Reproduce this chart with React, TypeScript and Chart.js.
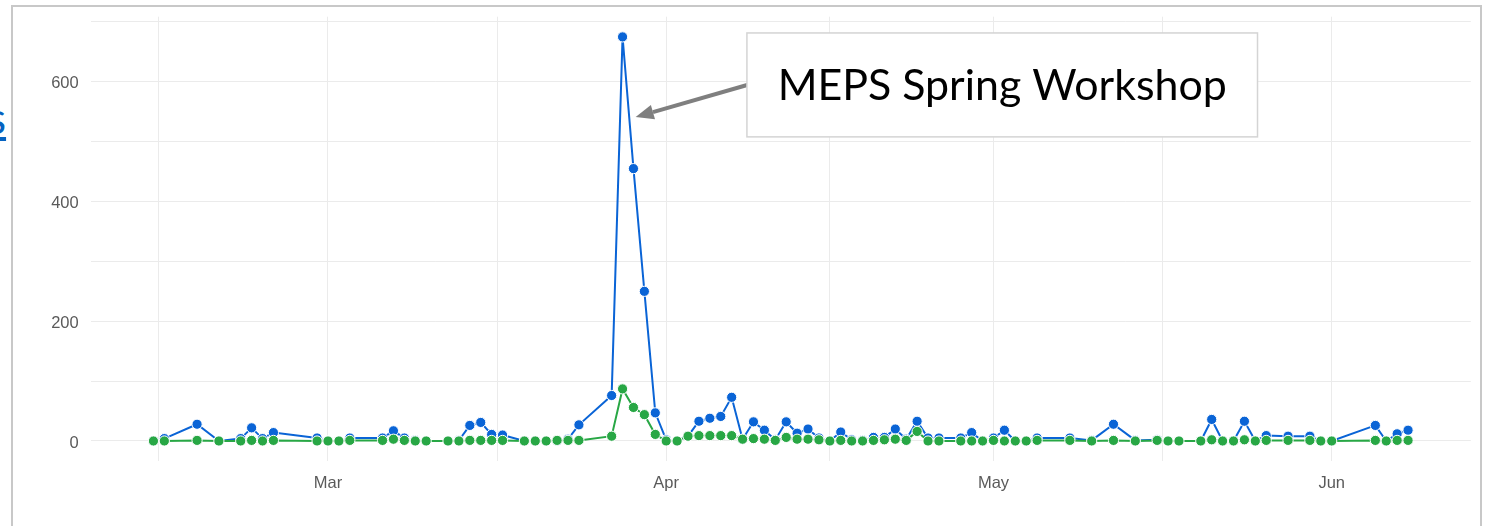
import React, { useEffect, useRef } from 'react';
import { Chart, registerables } from 'chart.js';

Chart.register(...registerables);

// Day offsets counted from 1 March (negative = February)
const dayOffsets = [
  -16, -15, -12, -10, -8, -7, -6, -5, -1, 0, 1, 2,
  5, 6, 7, 8, 9, 11, 12, 13, 14, 15, 16, 18, 19, 20, 21, 22, 23,
  26, 27, 28, 29, 30, 31, 32, 33, 34, 35, 36, 37, 38, 39, 40, 41, 42, 43, 44, 45,
  46, 47, 48, 49, 50, 51, 52, 53, 54, 55, 56, 58, 59, 60, 61, 62, 63, 64, 65,
  68, 70, 72, 74, 76, 77, 78, 80, 81, 82, 83, 84, 85, 86, 88, 90, 91, 92,
  96, 97, 98, 99,
];

const blueSeries = [
  0, 4, 28, 0, 4, 22, 4, 14, 5, 0, 0, 5,
  5, 17, 5, 1, 0, 0, 1, 26, 31, 11, 10, 0, 0, 0, 0, 3, 27,
  76, 675, 455, 250, 47, 2, 0, 8, 33, 38, 41, 73, 3, 32, 18, 2, 32, 13, 20, 5,
  0, 15, 2, 1, 6, 6, 20, 3, 33, 5, 5, 5, 14, 0, 5, 18, 0, 0, 5,
  5, 1, 28, 1, 2, 0, 0, 0, 36, 0, 0, 33, 0, 9, 8, 8, 0, 0,
  26, 0, 12, 18,
];

const greenSeries = [
  0, 0, 1, 0, 0, 1, 0, 1, 0, 0, 0, 1,
  1, 3, 1, 0, 0, 0, 0, 1, 1, 1, 1, 0, 0, 0, 1, 1, 1,
  8, 87, 56, 44, 11, 0, 0, 8, 9, 9, 9, 9, 3, 4, 3, 1, 6, 3, 3, 2,
  0, 1, 0, 0, 1, 2, 3, 1, 16, 0, 0, 0, 0, 0, 1, 0, 0, 0, 1,
  1, 0, 1, 0, 1, 0, 0, 0, 2, 0, 0, 2, 0, 1, 1, 1, 0, 0,
  1, 0, 1, 1,
];

const monthTickDays = [0, 31, 61, 92];
const monthTickLabels = ['Mar', 'Apr', 'May', 'Jun'];
const minorTickDays = [-15.5, 15.5, 46, 76.5];
const yMajorTicks = [0, 200, 400, 600];
const yMinorTicks = [100, 300, 500, 700];
const annotationText = 'MEPS Spring Workshop';

const BLUE = '#0a64d6';
const GREEN = '#28a745';
const TICK_FONT = { family: '"Liberation Sans", Arial, sans-serif', size: 16.5 };

const noteBox = { x1: 38.4, x2: 85.2, yTop: 681.6, yBottom: 508 };
const noteArrow = { fromX: 38.5, fromY: 595, toX: 28.2, toY: 541 };

const annotationPlugin = {
  id: 'workshopNote',
  afterDraw(chart: any) {
    const { ctx } = chart;
    const x = chart.scales.x;
    const y = chart.scales.y;
    const bx1 = x.getPixelForValue(noteBox.x1);
    const bx2 = x.getPixelForValue(noteBox.x2);
    const by1 = y.getPixelForValue(noteBox.yTop);
    const by2 = y.getPixelForValue(noteBox.yBottom);
    ctx.save();
    const ax1 = x.getPixelForValue(noteArrow.fromX);
    const ay1 = y.getPixelForValue(noteArrow.fromY);
    const ax2 = x.getPixelForValue(noteArrow.toX);
    const ay2 = y.getPixelForValue(noteArrow.toY);
    const ang = Math.atan2(ay2 - ay1, ax2 - ax1);
    const headLen = 18;
    const headHalf = 7.5;
    const baseX = ax2 - headLen * Math.cos(ang);
    const baseY = ay2 - headLen * Math.sin(ang);
    ctx.strokeStyle = '#7f7f7f';
    ctx.fillStyle = '#7f7f7f';
    ctx.lineWidth = 4;
    ctx.beginPath();
    ctx.moveTo(ax1, ay1);
    ctx.lineTo(baseX, baseY);
    ctx.stroke();
    ctx.beginPath();
    ctx.moveTo(ax2, ay2);
    ctx.lineTo(baseX + headHalf * Math.sin(ang), baseY - headHalf * Math.cos(ang));
    ctx.lineTo(baseX - headHalf * Math.sin(ang), baseY + headHalf * Math.cos(ang));
    ctx.closePath();
    ctx.fill();
    ctx.fillStyle = '#ffffff';
    ctx.fillRect(bx1, by1, bx2 - bx1, by2 - by1);
    ctx.strokeStyle = '#d4d4d4';
    ctx.lineWidth = 1.5;
    ctx.strokeRect(bx1, by1, bx2 - bx1, by2 - by1);
    const targetW = (bx2 - bx1) * 0.88;
    ctx.font = '40px Lato, "Open Sans", sans-serif';
    const w = ctx.measureText(annotationText).width;
    const size = 40 * targetW / w;
    ctx.font = `${size}px Lato, "Open Sans", sans-serif`;
    ctx.fillStyle = '#000000';
    ctx.textAlign = 'center';
    ctx.textBaseline = 'middle';
    ctx.fillText(annotationText, (bx1 + bx2) / 2, (by1 + by2) / 2 + 1);
    ctx.restore();
  },
};

export default function App() {
  const canvasRef = useRef<HTMLCanvasElement | null>(null);

  useEffect(() => {
    const canvas = canvasRef.current;
    if (!canvas) return;
    const chart = new Chart(canvas, {
      type: 'line',
      data: {
        datasets: [
          {
            label: 'green',
            data: dayOffsets.map((d, i) => ({ x: d, y: greenSeries[i] })),
            borderColor: GREEN,
            backgroundColor: GREEN,
            pointBackgroundColor: GREEN,
            pointBorderColor: '#ffffff',
            pointBorderWidth: 1,
            pointRadius: 5.1,
            borderWidth: 2,
            tension: 0,
            order: 0,
          },
          {
            label: 'blue',
            data: dayOffsets.map((d, i) => ({ x: d, y: blueSeries[i] })),
            borderColor: BLUE,
            backgroundColor: BLUE,
            pointBackgroundColor: BLUE,
            pointBorderColor: '#ffffff',
            pointBorderWidth: 1,
            pointRadius: 5.1,
            borderWidth: 2,
            tension: 0,
            order: 1,
          },
        ],
      },
      options: {
        responsive: false,
        animation: false,
        layout: { padding: { top: 16.7, right: 15.2, left: 0, bottom: 0 } },
        plugins: { legend: { display: false }, tooltip: { enabled: false } },
        scales: {
          x: {
            type: 'linear',
            min: -21.75,
            max: 104.75,
            afterBuildTicks: (scale: any) => {
              scale.ticks = [...minorTickDays, ...monthTickDays]
                .sort((a, b) => a - b)
                .map((v) => ({ value: v }));
            },
            afterFit: (scale: any) => {
              scale.height = 526 - 461.2;
              scale.paddingLeft = 0;
              scale.paddingRight = 0;
            },
            ticks: {
              autoSkip: false,
              maxRotation: 0,
              padding: 12,
              color: '#5a5a5a',
              font: TICK_FONT,
              callback: (v: any) => {
                const i = monthTickDays.indexOf(Number(v));
                return i >= 0 ? monthTickLabels[i] : '';
              },
            },
            grid: { color: '#ebebeb', lineWidth: 1, drawTicks: false },
            border: { display: false },
          },
          y: {
            type: 'linear',
            min: -33.75,
            max: 708.75,
            afterBuildTicks: (scale: any) => {
              scale.ticks = [...yMajorTicks, ...yMinorTicks]
                .sort((a, b) => a - b)
                .map((v) => ({ value: v }));
            },
            afterFit: (scale: any) => {
              scale.width = 90.7;
              scale.paddingTop = 0;
              scale.paddingBottom = 0;
            },
            ticks: {
              padding: 12,
              labelOffset: 2,
              color: '#5a5a5a',
              font: TICK_FONT,
              callback: (v: any) => (yMajorTicks.includes(Number(v)) ? String(v) : ''),
            },
            grid: { color: '#ebebeb', lineWidth: 1, drawTicks: false },
            border: { display: false },
          },
        },
      },
      plugins: [annotationPlugin],
    });
    return () => chart.destroy();
  }, []);

  return (
    <div style={{ position: 'absolute', left: 0, top: 0, width: 1486, height: 526, overflow: 'hidden', background: '#ffffff' }}>
      <div
        style={{
          position: 'absolute',
          left: 11,
          top: 5,
          width: 1471,
          height: 600,
          border: '2px solid #c8c8c8',
          boxSizing: 'border-box',
        }}
      />
      <span
        style={{
          position: 'absolute',
          left: -13,
          top: 92,
          fontFamily: 'Lato, sans-serif',
          fontSize: 44,
          color: '#0563c1',
          textDecoration: 'underline',
          lineHeight: '50px',
        }}
      >
        s
      </span>
      <canvas ref={canvasRef} width={1486} height={526} style={{ position: 'absolute', left: 0, top: 0, display: 'block' }} />
    </div>
  );
}
